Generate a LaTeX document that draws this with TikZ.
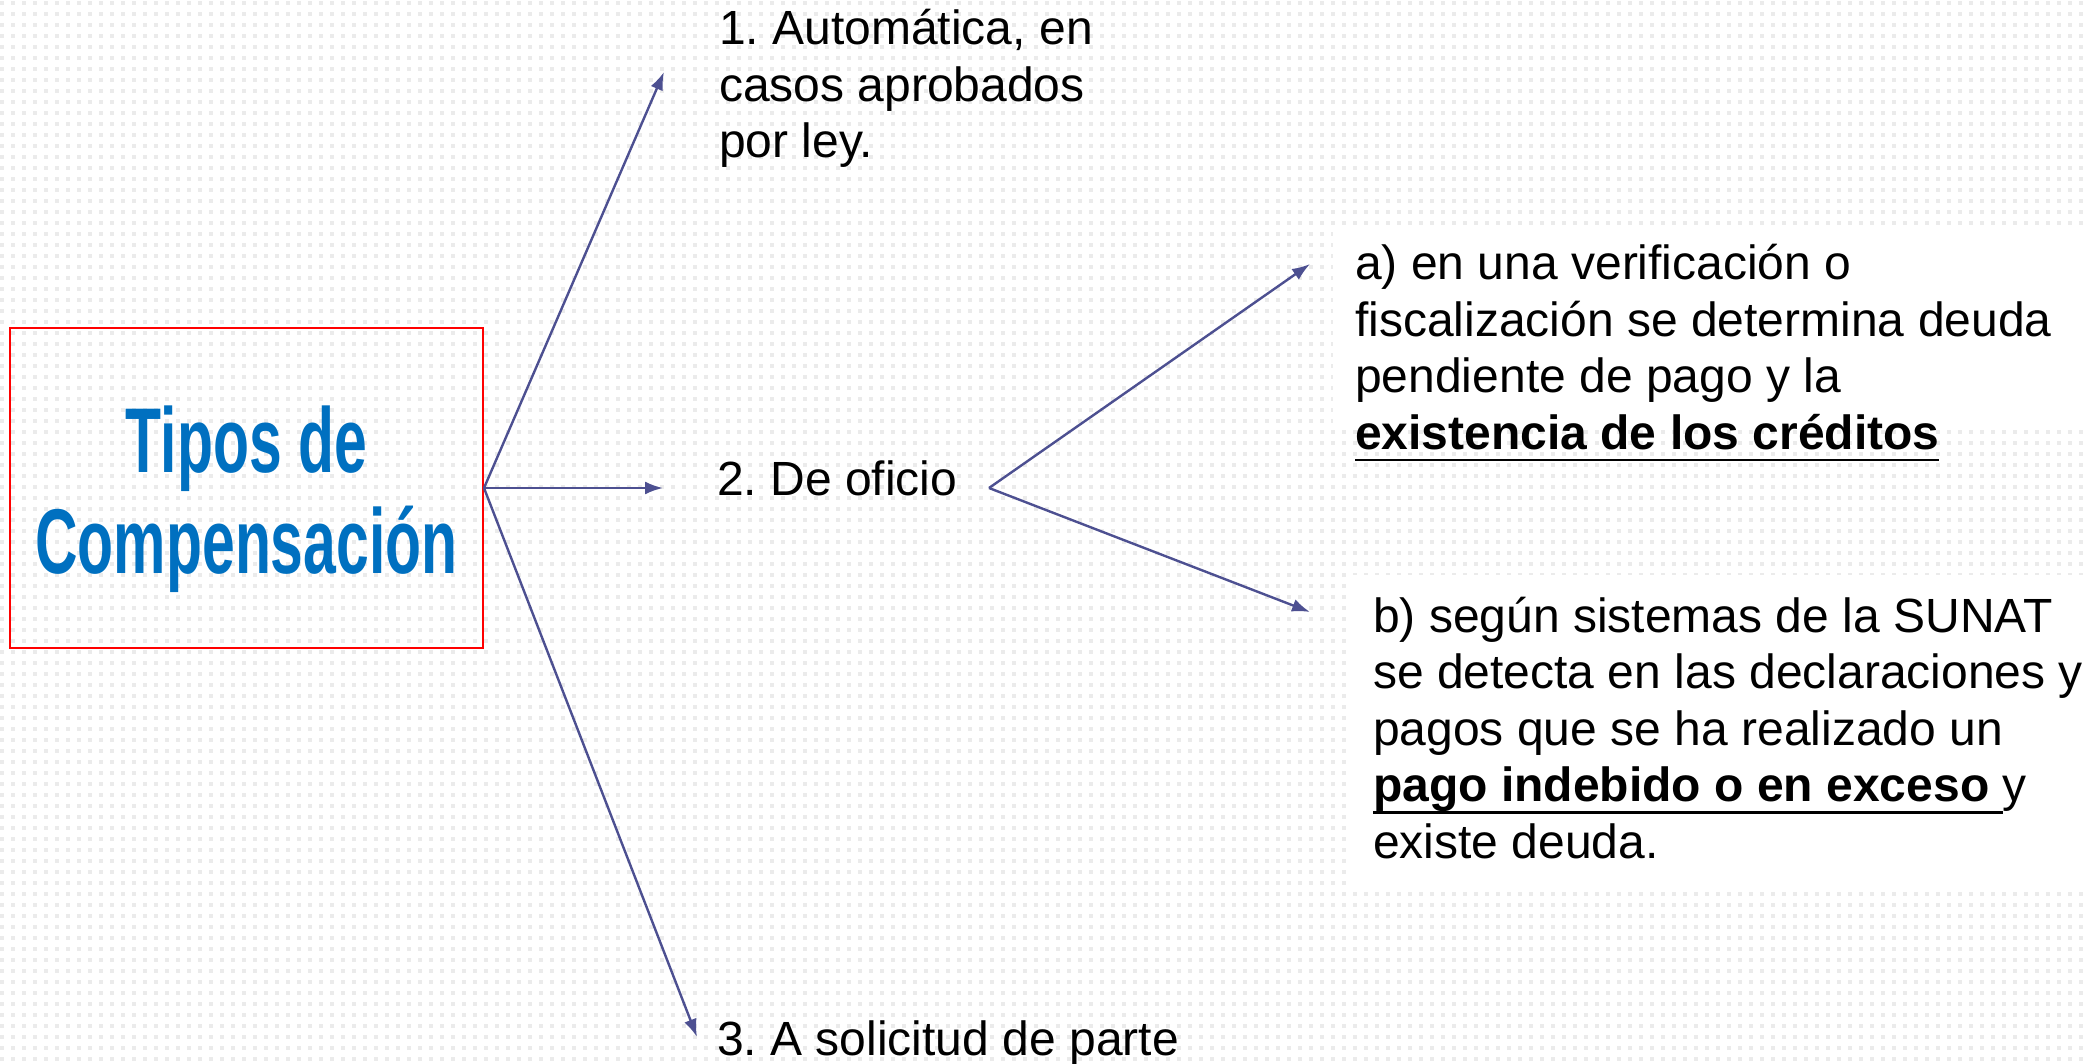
\documentclass[tikz,border=0pt]{standalone}
\usepackage{fontspec}
\setmainfont{Liberation Sans}
\newfontfamily\titulofont{Liberation Sans Bold}[FakeStretch=0.64]
\usetikzlibrary{arrows.meta}
\frenchspacing

% underline at a fixed depth below the baseline
\newcommand\subrayado[1]{\setbox0\hbox{#1}\rlap{\rule[-12pt]{\wd0}{2.2pt}}\box0}

\begin{document}
\begin{tikzpicture}[x=1pt, y=-1pt,
    flecha/.style={draw=lineaColour, line width=2.4pt, -{Latex[length=18pt,width=13pt]}},
    texto/.style={anchor=base west, align=left, inner sep=0pt, font=\fontsize{48}{56.5}\selectfont},
    puntos/.style={draw=dotColour, line width=4pt, dash pattern=on 4pt off 7pt}]
    % Define colours
    \definecolor{lineaColour}{HTML}{4D5091}
    \definecolor{dotColour}{HTML}{EBEBEB}
    \definecolor{tituloColour}{HTML}{0070C0}

    \useasboundingbox (0,0) rectangle (2090,1064);

    % Draw dotted background
    \foreach \y in {3,14,...,1064}
        \draw[puntos] (0,\y) -- (2090,\y);

    % White areas behind a) and b)
    \fill[white] (1333,232) rectangle (2083,430);
    \fill[white] (1350,575) rectangle (2090,887);

    % Title box (text placed by its last baseline)
    \node[draw=red, line width=2pt, minimum width=473pt, minimum height=320pt] (tipos) at (246.5,488) {};
    \node[anchor=base, align=center, inner sep=0pt, text=tituloColour,
          font=\titulofont\fontsize{92}{101}\selectfont] (tiposTexto) at (246.5,573) {Tipos de\\Compensación};

    % Types
    \node[texto] (automatica) at (719,158) {1. Automática, en\\casos aprobados\\por ley.};
    \node[texto] (oficio) at (717,495) {2. De oficio};
    \node[texto] (solicitud) at (717,1055) {3. A solicitud de parte};

    % Cases of 2.
    \node[texto] (verificacion) at (1355,449) {a) en una verificación o\\fiscalización se determina deuda\\pendiente de pago y la\\\subrayado{\textbf{existencia de los créditos}}};
    \node[texto] (sistemas) at (1373,858) {b) según sistemas de la SUNAT\\se detecta en las declaraciones y\\pagos que se ha realizado un\\\subrayado{\textbf{pago indebido o en exceso}\ }y\\existe deuda.};

    % Arrow ends
    \coordinate (p1) at (664,72);
    \coordinate (p2) at (663,488);
    \coordinate (p3) at (697,1037);
    \coordinate (oficioSalida) at (989,488);
    \coordinate (pa) at (1310,264);
    \coordinate (pb) at (1310,612);

    % Draw arrows
    \draw[flecha] (tipos.east) -- (p1);
    \draw[flecha] (tipos.east) -- (p2);
    \draw[flecha] (tipos.east) -- (p3);
    \draw[flecha] (oficioSalida) -- (pa);
    \draw[flecha] (oficioSalida) -- (pb);

\end{tikzpicture}
\end{document}
